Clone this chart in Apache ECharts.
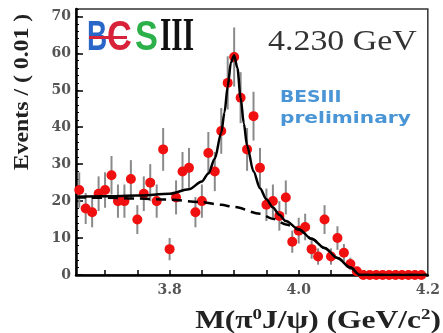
<!DOCTYPE html>
<html><head><meta charset="utf-8">
<script src="https://cdn.jsdelivr.net/npm/echarts@6/dist/echarts.min.js"></script>
<style>html,body{margin:0;padding:0;background:#fff}#c{width:443px;height:333px}</style>
</head><body><div id="c"></div>
<script>
// bin centres (GeV/c^2), bin width 0.01
const binCenters = [3.66,3.67,3.68,3.69,3.70,3.71,3.72,3.73,3.74,3.75,3.76,3.77,3.78,3.79,3.80,3.81,3.82,3.83,3.84,3.85,3.86,3.87,3.88,3.89,3.90,3.91,3.92,3.93,3.94,3.95,3.96,3.97,3.98,3.99,4.00,4.01,4.02,4.03,4.04,4.05,4.06,4.07,4.08,4.09,4.10,4.11,4.12,4.13,4.14,4.15,4.16,4.17,4.18,4.19];
const counts = [23,18,17,22,23,27,20,20,26,15,22,25,20,34,7,21,28,29,17,20,33,28,39,52,59,48,34,43,29,19,20,16,21,9,12,13,7,5,15,5,10,6,3,1,0,0,0,0,0,0,0,0,0,0];
const errors = [4.8,4.2,4.1,4.7,4.8,5.2,4.5,4.5,5.1,3.9,4.7,5.0,4.5,5.8,3.0,4.6,5.3,5.4,4.1,4.5,5.7,5.3,6.2,7.2,8.0,6.9,5.8,6.6,5.4,4.4,4.5,4.0,4.6,3.0,3.5,3.6,2.6,2.2,3.9,2.2,3.2,2.4,1.7,1.0,0,0,0,0,0,0,0,0,0,0];
// total fit (solid)
const fitX = [3.655,3.70,3.75,3.80,3.83,3.85,3.86,3.87,3.88,3.885,3.89,3.895,3.90,3.905,3.91,3.915,3.92,3.93,3.94,3.95,3.96,3.97,3.98,4.00,4.02,4.04,4.06,4.08,4.095,4.2];
const fitY = [21.2,21.3,21.5,22.0,23.2,25.3,27.5,31.5,38.5,44.0,51.0,57.5,59.5,56.0,48.0,41.0,35.0,28.0,23.5,20.5,18.3,16.3,14.6,12.4,9.8,7.3,4.6,2.0,0,0];
// background (dashed)
const bkgX = [3.655,3.70,3.75,3.80,3.85,3.88,3.90,3.94,3.96,3.98,4.00,4.02,4.04,4.06,4.08,4.095,4.2];
const bkgY = [21.0,20.9,20.7,20.4,19.7,19.0,18.4,16.6,15.2,13.7,12.3,9.8,7.3,4.6,2.0,0,0];
const xTickValues = [3.70,3.75,3.80,3.85,3.90,3.95,4.00,4.05,4.10,4.15];
const xLabelValues = [3.8,4.0,4.2];
const yLabelValues = [0,10,20,30,40,50,60,70];

const chart = echarts.init(document.getElementById('c'));
const pts = binCenters.map((x,i)=>[x,counts[i]]);
const errData = binCenters.map((x,i)=>[x,counts[i]-errors[i],counts[i]+errors[i]]);
const fitData = fitX.map((x,i)=>[x,fitY[i]]);
const bkgData = bkgX.map((x,i)=>[x,bkgY[i]]);
const serif = '"Liberation Serif", "Times New Roman", serif';

chart.setOption({
  animation:false,
  grid:{left:76,right:13,top:9,bottom:58,show:true,borderColor:'#333',borderWidth:1.5},
  xAxis:{type:'value',min:3.655,max:4.2,
    axisLine:{show:true,onZero:false,lineStyle:{color:'#000',width:2.5}},
    axisTick:{show:true,inside:true,length:5,customValues:xTickValues,lineStyle:{color:'#000',width:1.5}},
    axisLabel:{customValues:xLabelValues,formatter:v=>v.toFixed(1),fontFamily:'"DejaVu Serif", serif',fontWeight:'bold',fontSize:14,color:'#555',margin:8},
    splitLine:{show:false}},
  yAxis:[
    {type:'value',min:0,max:72,interval:2,
     axisLine:{show:true,lineStyle:{color:'#000',width:2.5}},
     axisTick:{show:true,inside:true,length:3,lineStyle:{color:'#000',width:1}},
     axisLabel:{customValues:yLabelValues,fontFamily:'"DejaVu Serif", serif',fontWeight:'bold',fontSize:14,color:'#555',margin:5},
     splitLine:{show:false}},
    {type:'value',min:0,max:72,position:'left',
     axisLine:{show:false},
     axisTick:{show:true,inside:true,length:7,customValues:yLabelValues,lineStyle:{color:'#000',width:1.5}},
     axisLabel:{show:false},splitLine:{show:false}}
  ],
  series:[
    {type:'custom',z:2,data:errData,
     renderItem:(params,api)=>{
       const a=api.coord([api.value(0),api.value(1)]);
       const b=api.coord([api.value(0),api.value(2)]);
       return {type:'line',shape:{x1:a[0],y1:a[1],x2:b[0],y2:b[1]},style:{stroke:'#8a8a8a',lineWidth:2}};
     },
     encode:{x:0,y:[1,2]}},
    {type:'scatter',z:3,data:pts,symbol:'circle',symbolSize:10,itemStyle:{color:'#f01010',opacity:1}},
    {type:'line',z:4,data:bkgData,showSymbol:false,smooth:0.3,smoothMonotone:'x',lineStyle:{color:'#000',width:2.5,type:[10,6]}},
    {type:'line',z:5,data:fitData,showSymbol:false,smooth:0.3,smoothMonotone:'x',lineStyle:{color:'#000',width:2.5}}
  ],
  graphic:[
    {type:'text',x:22,y:92,rotation:Math.PI/2,scaleX:1.08,z:10,
     style:{text:'Events / ( 0.01 )',font:'bold 22px '+serif,fill:'#222',align:'center',verticalAlign:'middle',textAlign:'center',textVerticalAlign:'middle'}},
    {type:'text',x:441,y:322,scaleX:1.26,z:10,
     style:{text:'{a|M(π}{s|0}{a|J/ψ) (GeV/c}{s|2}{a|)}',align:'right',verticalAlign:'middle',textAlign:'right',textVerticalAlign:'middle',
       rich:{a:{fontFamily:serif,fontWeight:'bold',fontSize:25,fill:'#222',lineHeight:28},
             s:{fontFamily:serif,fontWeight:'bold',fontSize:15,fill:'#222',lineHeight:16,verticalAlign:'top'}}}},
    {type:'text',x:268,y:42,scaleX:1.13,z:10,
     style:{text:'4.230 GeV',font:'30px '+serif,fill:'#333',align:'left',verticalAlign:'middle',textAlign:'left',textVerticalAlign:'middle'}},
    {type:'text',x:280,y:98,scaleX:1.17,z:10,
     style:{text:'BESIII',font:'bold 16px "DejaVu Sans", sans-serif',fill:'#4a95d6',align:'left',verticalAlign:'middle',textAlign:'left',textVerticalAlign:'middle'}},
    {type:'text',x:280,y:119,scaleX:1.26,z:10,
     style:{text:'preliminary',font:'bold 16px "DejaVu Sans", sans-serif',fill:'#4a95d6',align:'left',verticalAlign:'middle',textAlign:'left',textVerticalAlign:'middle'}},
    {type:'text',x:87,y:38,scaleX:0.65,z:10,
     style:{text:'B',font:'bold 43px "Liberation Sans", sans-serif',fill:'#2a66c8',align:'left',verticalAlign:'middle',textAlign:'left',textVerticalAlign:'middle'}},
    {type:'text',x:107,y:38,scaleX:0.8,z:10,
     style:{text:'C',font:'bold 43px "Liberation Sans", sans-serif',fill:'#d8223a',align:'left',verticalAlign:'middle',textAlign:'left',textVerticalAlign:'middle'}},
    {type:'rect',z:11,shape:{x:89,y:36,width:38,height:3},style:{fill:'#d8223a'}},
    {type:'text',x:135,y:38,scaleX:0.8,z:10,
     style:{text:'S',font:'bold 43px "Liberation Sans", sans-serif',fill:'#2bb04a',align:'left',verticalAlign:'middle',textAlign:'left',textVerticalAlign:'middle'}},
    {type:'text',x:160,y:38,scaleX:0.62,z:10,
     style:{text:'III',font:'bold 47px '+serif,fill:'#111',align:'left',verticalAlign:'middle',textAlign:'left',textVerticalAlign:'middle'}}
  ]
});
</script></body></html>
